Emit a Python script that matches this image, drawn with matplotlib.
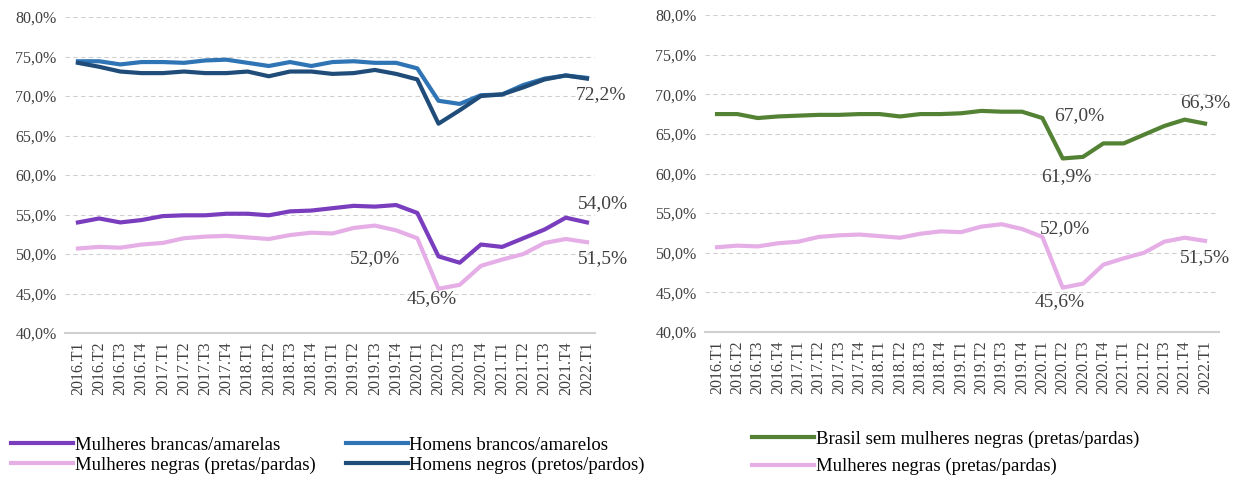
import matplotlib.pyplot as plt

# quarters 2016.T1 .. 2022.T1
quarters = [f"{y}.T{q}" for y in range(2016, 2023) for q in range(1, 5)][:25]

mulheres_brancas = [54.0, 54.5, 54.0, 54.3, 54.8, 54.9, 54.9, 55.1, 55.1, 54.9,
                    55.4, 55.5, 55.8, 56.1, 56.0, 56.2, 55.2, 49.7, 48.9, 51.2,
                    50.9, 52.0, 53.1, 54.6, 54.0]
mulheres_negras = [50.7, 50.9, 50.8, 51.2, 51.4, 52.0, 52.2, 52.3, 52.1, 51.9,
                   52.4, 52.7, 52.6, 53.3, 53.6, 53.0, 52.0, 45.6, 46.1, 48.5,
                   49.3, 50.0, 51.4, 51.9, 51.5]
homens_brancos = [74.4, 74.4, 74.0, 74.3, 74.3, 74.2, 74.5, 74.6, 74.2, 73.8,
                  74.3, 73.8, 74.3, 74.4, 74.2, 74.2, 73.5, 69.4, 69.0, 70.1,
                  70.2, 71.4, 72.2, 72.6, 72.3]
homens_negros = [74.2, 73.7, 73.1, 72.9, 72.9, 73.1, 72.9, 72.9, 73.1, 72.5,
                 73.1, 73.1, 72.8, 72.9, 73.3, 72.8, 72.1, 66.5, 68.2, 70.0,
                 70.2, 71.1, 72.1, 72.6, 72.2]
brasil_sem = [67.5, 67.5, 67.0, 67.2, 67.3, 67.4, 67.4, 67.5, 67.5, 67.2,
              67.5, 67.5, 67.6, 67.9, 67.8, 67.8, 67.0, 61.9, 62.1, 63.8,
              63.8, 64.9, 66.0, 66.8, 66.3]

C_PURPLE = "#7A3DBE"
C_PINK = "#E5AEE6"
C_BLUE = "#2F75B5"
C_NAVY = "#1F4C78"
C_GREEN = "#548235"

plt.rcParams["font.family"] = ["Liberation Serif", "DejaVu Serif"]

fig = plt.figure(figsize=(12.33, 4.78), dpi=100)
ax1 = fig.add_axes([0.0527, 0.3033, 0.4299, 0.6611])
ax2 = fig.add_axes([0.5718, 0.3054, 0.4169, 0.6632])

x = list(range(len(quarters)))


def style_axis(ax, xlim):
    ax.set_ylim(40, 80)
    ax.set_xlim(*xlim)
    ax.set_yticks(range(40, 81, 5))
    ax.set_yticklabels([f"{v},0%" for v in range(40, 81, 5)], fontsize=11.5, color="#404040")
    ax.set_xticks(x)
    ax.set_xticklabels(quarters, rotation=90, fontsize=11.5, color="#404040")
    ax.tick_params(length=0, pad=6)
    ax.grid(axis="y", linestyle=(0, (4, 3)), color="#d0d0d0", linewidth=0.8)
    for s in ["top", "right", "left"]:
        ax.spines[s].set_visible(False)
    ax.spines["bottom"].set_color("#d0d0d0")
    ax.spines["bottom"].set_linewidth(1.5)
    ax.set_axisbelow(True)


def label(ax, i, series, dx, dy):
    # value label offset from a data point, in pixels
    txt = f"{series[i]:.1f}%".replace(".", ",")
    ax.annotate(txt, (i, series[i]), xytext=(dx, dy), textcoords="offset pixels",
                ha="center", va="center", fontsize=14, color="#404040")


lw = 3
l1, = ax1.plot(x, mulheres_brancas, color=C_PURPLE, lw=lw, label="Mulheres brancas/amarelas")
l2, = ax1.plot(x, mulheres_negras, color=C_PINK, lw=lw, label="Mulheres negras (pretas/pardas)")
l3, = ax1.plot(x, homens_brancos, color=C_BLUE, lw=lw, label="Homens brancos/amarelos")
l4, = ax1.plot(x, homens_negros, color=C_NAVY, lw=lw, label="Homens negros (pretos/pardos)")
style_axis(ax1, (-0.61, 24.38))

label(ax1, 24, homens_negros, 14, -16)
label(ax1, 24, mulheres_brancas, 16, 19)
label(ax1, 24, mulheres_negras, 16, -16)
label(ax1, 16, mulheres_negras, -42, -20)
label(ax1, 17, mulheres_negras, -7, -10)

l5, = ax2.plot(x, brasil_sem, color=C_GREEN, lw=lw, label="Brasil sem mulheres negras (pretas/pardas)")
l6, = ax2.plot(x, mulheres_negras, color=C_PINK, lw=lw, label="Mulheres negras (pretas/pardas)")
style_axis(ax2, (-0.59, 24.69))

label(ax2, 16, brasil_sem, 37, 2)
label(ax2, 17, brasil_sem, 4, -18)
label(ax2, 24, brasil_sem, 0, 21)
label(ax2, 16, mulheres_negras, 23, 8)
label(ax2, 24, mulheres_negras, 0, -17)
label(ax2, 17, mulheres_negras, -3, -14)

fig.legend([l1, l2, l3, l4], [h.get_label() for h in [l1, l2, l3, l4]], ncol=2,
           loc="upper left", bbox_to_anchor=(0.003, 0.102), columnspacing=1.6,
           frameon=False, fontsize=13.5, handlelength=3.3, handletextpad=0.1,
           labelspacing=0.15, borderaxespad=0)
fig.legend([l5, l6], [h.get_label() for h in [l5, l6]], ncol=1,
           loc="upper left", bbox_to_anchor=(0.604, 0.115), labelspacing=0.55,
           handletextpad=0.1, frameon=False, fontsize=13.5, handlelength=3.3,
           borderaxespad=0)

fig.savefig("out.png", dpi=100)
